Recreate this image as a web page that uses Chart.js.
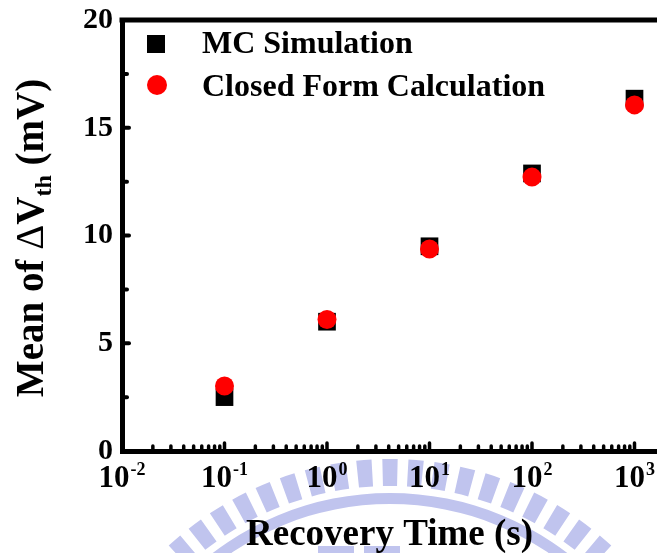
<!DOCTYPE html>
<html><head><meta charset="utf-8">
<script src="https://cdn.jsdelivr.net/npm/chart.js@4.4.1/dist/chart.umd.min.js"></script>
<style>html,body{margin:0;padding:0;background:#fff;overflow:hidden}#wrap{width:657px;height:553px}</style>
</head><body><div id="wrap"><canvas id="c" width="657" height="553"></canvas></div>
<script>
// ---- data ----
const recoveryTimes = [0.1, 1, 10, 100, 1000];
const mcSimulation = [2.5, 6.0, 9.5, 12.88, 16.35];
const closedForm = [3.02, 6.1, 9.37, 12.71, 16.06];
const seriesNames = ['MC Simulation', 'Closed Form Calculation'];
const xTickExponents = [-2, -1, 0, 1, 2, 3];
const xMinorMultipliers = [2, 3, 4, 5, 6, 7, 8, 9];
const yMajorTicks = [0, 5, 10, 15, 20];
const yMinorTicks = [2.5, 7.5, 12.5, 17.5];
const xTitle = 'Recovery Time (s)';
const yTitleParts = ['Mean of ', '\u0394', 'V', 'th', ' (mV)'];
const X_MIN = 0.01, X_MAX = Math.pow(10, 3.2195), Y_MIN = 0, Y_MAX = 20;

const SERIF = "'Liberation Serif', 'Times New Roman', serif";
const wmColor = 'rgb(192,196,238)';

const watermark = {
  id: 'watermark',
  beforeDraw(chart) {
    const ctx = chart.ctx;
    ctx.save();
    ctx.fillStyle = wmColor;
    const cx = 390, cy = 785;
    const rOut = 326, rIn = 299;
    const step = 4.6 * Math.PI / 180, half = 1.35 * Math.PI / 180;
    for (let a = -Math.PI / 2 - 40 * step; a < 0; a += step) {
      ctx.beginPath();
      ctx.arc(cx, cy, rOut, a - half, a + half);
      ctx.arc(cx, cy, rIn, a + half, a - half, true);
      ctx.closePath();
      ctx.fill();
    }
    ctx.beginPath();
    ctx.arc(cx, cy, 292, Math.PI, 2 * Math.PI);
    ctx.arc(cx, cy, 281, 2 * Math.PI, Math.PI, true);
    ctx.closePath();
    ctx.fill();
    ctx.fillRect(318, 546, 36, 8);
    ctx.fillRect(364, 546, 36, 8);
    ctx.restore();
  }
};

const decorations = {
  id: 'decorations',
  afterDraw(chart) {
    const ctx = chart.ctx;
    const area = chart.chartArea;
    const xs = chart.scales.x, ys = chart.scales.y;
    ctx.save();
    ctx.strokeStyle = '#000';
    ctx.fillStyle = '#000';
    // top frame line
    ctx.lineWidth = 5;
    ctx.beginPath();
    ctx.moveTo(area.left - 2.5, area.top);
    ctx.lineTo(area.right, area.top);
    ctx.stroke();
    // y ticks (inward)
    ctx.lineCap = 'round';
    ctx.lineWidth = 4;
    yMajorTicks.forEach(v => {
      if (v === Y_MIN || v === Y_MAX) return;
      const y = ys.getPixelForValue(v);
      ctx.beginPath(); ctx.moveTo(area.left, y); ctx.lineTo(area.left + 7, y); ctx.stroke();
    });
    yMinorTicks.forEach(v => {
      const y = ys.getPixelForValue(v);
      ctx.beginPath(); ctx.moveTo(area.left, y); ctx.lineTo(area.left + 5, y); ctx.stroke();
    });
    // x ticks (inward)
    ctx.lineWidth = 3.5;
    xTickExponents.forEach(e => {
      const base = Math.pow(10, e);
      const x = xs.getPixelForValue(base);
      if (e > xTickExponents[0]) {
        ctx.beginPath(); ctx.moveTo(x, area.bottom); ctx.lineTo(x, area.bottom - 8); ctx.stroke();
      }
      if (e < xTickExponents[xTickExponents.length - 1]) {
        xMinorMultipliers.forEach(m => {
          const xm = xs.getPixelForValue(m * base);
          ctx.beginPath(); ctx.moveTo(xm, area.bottom); ctx.lineTo(xm, area.bottom - 5); ctx.stroke();
        });
      }
    });
    // x tick labels 10^n
    ctx.textBaseline = 'alphabetic';
    ctx.textAlign = 'left';
    xTickExponents.forEach(e => {
      const x = xs.getPixelForValue(Math.pow(10, e));
      const mainF = 'bold 31px ' + SERIF, supF = 'bold 18px ' + SERIF;
      ctx.font = mainF; const w1 = ctx.measureText('10').width;
      ctx.font = supF; const w2 = ctx.measureText(String(e)).width;
      const start = x - (w1 + w2 + 1) / 2;
      ctx.font = mainF; ctx.fillText('10', start, 487);
      ctx.font = supF; ctx.fillText(String(e), start + w1 + 1, 475);
    });
    // x title
    ctx.font = 'bold 37px ' + SERIF;
    ctx.textAlign = 'center';
    ctx.fillText(xTitle, (area.left + area.right) / 2, 545);
    // y title (rotated, with subscript)
    const parts = [
      {t: yTitleParts[0], f: 'bold 39px ' + SERIF, dy: 0},
      {t: yTitleParts[1], f: '39px ' + SERIF, dy: 0},
      {t: yTitleParts[2], f: 'bold 39px ' + SERIF, dy: 0},
      {t: yTitleParts[3], f: 'bold 24px ' + SERIF, dy: 8},
      {t: yTitleParts[4], f: 'bold 39px ' + SERIF, dy: 0}
    ];
    let total = 0;
    parts.forEach(p => { ctx.font = p.f; p.w = ctx.measureText(p.t).width; total += p.w; });
    ctx.translate(43, 238);
    ctx.rotate(-Math.PI / 2);
    ctx.textAlign = 'left';
    let px = -total / 2;
    parts.forEach(p => { ctx.font = p.f; ctx.fillText(p.t, px, p.dy); px += p.w; });
    ctx.restore();

    // legend
    ctx.save();
    const ds = chart.data.datasets;
    const mc = ds.find(d => d.label === seriesNames[0]);
    const cf = ds.find(d => d.label === seriesNames[1]);
    ctx.fillStyle = mc.backgroundColor;
    ctx.fillRect(147, 35, 18, 18);
    ctx.fillStyle = cf.backgroundColor;
    ctx.beginPath(); ctx.arc(157, 85, 10, 0, Math.PI * 2); ctx.fill();
    ctx.fillStyle = '#000';
    ctx.font = 'bold 32px ' + SERIF;
    ctx.textAlign = 'left';
    ctx.textBaseline = 'alphabetic';
    ctx.fillText(mc.label, 202, 53);
    ctx.fillText(cf.label, 202, 96);
    ctx.restore();
  }
};

new Chart(document.getElementById('c'), {
  type: 'scatter',
  data: {
    datasets: [
      { label: seriesNames[0], order: 1,
        data: recoveryTimes.map((t, i) => ({x: t, y: mcSimulation[i]})),
        pointStyle: 'rect', pointRadius: 12.5, borderWidth: 0,
        backgroundColor: '#000000', borderColor: '#000000' },
      { label: seriesNames[1], order: 0,
        data: recoveryTimes.map((t, i) => ({x: t, y: closedForm[i]})),
        pointStyle: 'circle', pointRadius: 9.5, borderWidth: 0,
        backgroundColor: '#ff0000', borderColor: '#ff0000' }
    ]
  },
  options: {
    responsive: false, animation: false, devicePixelRatio: 1,
    layout: { autoPadding: false, padding: { left: 83, right: 0, top: 20, bottom: 102 } },
    plugins: { legend: { display: false }, tooltip: { enabled: false } },
    scales: {
      x: { type: 'logarithmic', min: X_MIN, max: X_MAX,
        grid: { display: false, drawTicks: false },
        border: { display: true, width: 5, color: '#000' },
        ticks: { display: false },
        afterFit: s => { s.height = 0; s.paddingLeft = 0; s.paddingRight = 0; } },
      y: { min: Y_MIN, max: Y_MAX,
        grid: { display: false, drawTicks: false },
        border: { display: true, width: 5, color: '#000' },
        ticks: { stepSize: 5, color: '#000', padding: 9,
          font: { family: SERIF, size: 30, weight: 'bold' } },
        afterFit: s => { s.width = 39; s.paddingTop = 0; s.paddingBottom = 0; } }
    }
  },
  plugins: [watermark, decorations]
});
</script>
</body></html>
